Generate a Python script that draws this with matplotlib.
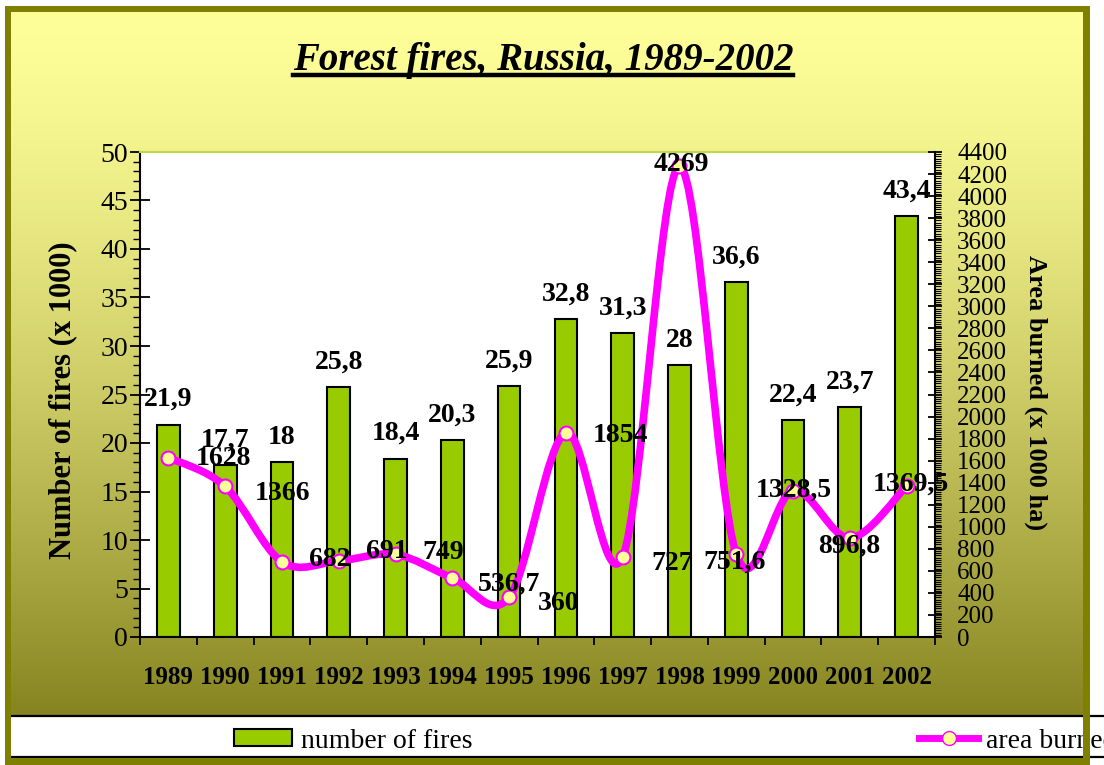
import numpy as np
import matplotlib
matplotlib.use("Agg")
import matplotlib.pyplot as plt
from matplotlib.path import Path
from matplotlib.patches import PathPatch, Patch, Rectangle
from matplotlib.lines import Line2D

plt.rcParams['font.family'] = ['Liberation Serif', 'DejaVu Serif']

years = ["1989", "1990", "1991", "1992", "1993", "1994", "1995",
         "1996", "1997", "1998", "1999", "2000", "2001", "2002"]
fires = [21.9, 17.7, 18, 25.8, 18.4, 20.3, 25.9, 32.8, 31.3, 28, 36.6, 22.4, 23.7, 43.4]
area = [1628, 1366, 682, 691, 749, 536.7, 360, 1854, 727, 4269, 751.6, 1328.5, 896.8, 1369.5]

# where excel put the area labels (pixel offsets from the point)
area_label_offsets = [(55, -1), (57, -7), (48, 2), (48, 9), (48, 2), (57, -6), (50, -6),
                      (55, -3), (50, -7), (2, 2), (-2, -8), (1, 0), (-1, -8), (4, 2)]

W, H = 1104, 765
GREEN = '#99CC00'
MAGENTA = '#FF00FF'
CREAM = '#FFFF99'
OLIVE = '#808000'


def fmt(v):
    return f"{v:g}".replace('.', ',')


def smooth_path(xs, ys):
    # catmull-rom style bezier, like excel's "smoothed line"
    pts = list(zip(xs, ys))
    n = len(pts)
    verts = [pts[0]]
    codes = [Path.MOVETO]
    for i in range(n - 1):
        p0 = pts[i - 1] if i > 0 else pts[i]
        p1 = pts[i]
        p2 = pts[i + 1]
        p3 = pts[i + 2] if i + 2 < n else pts[i + 1]
        c1 = (p1[0] + (p2[0] - p0[0]) / 6, p1[1] + (p2[1] - p0[1]) / 6)
        c2 = (p2[0] - (p3[0] - p1[0]) / 6, p2[1] - (p3[1] - p1[1]) / 6)
        verts += [c1, c2, p2]
        codes += [Path.CURVE4] * 3
    return Path(verts, codes)


fig = plt.figure(figsize=(W / 100, H / 100), dpi=100)
fig.patch.set_facecolor('white')

# background: yellow -> olive gradient, white legend band
bg = fig.add_axes([0, 0, 1, 1], zorder=-1)
bg.set_xlim(0, W)
bg.set_ylim(H, 0)
bg.axis('off')
t = np.linspace(0, 1, 400) ** 1.4
top = np.array([255, 255, 153]) / 255
bot = np.array([124, 122, 22]) / 255
grad = top[None, :] * (1 - t[:, None]) + bot[None, :] * t[:, None]
bg.imshow(grad[:, None, :], extent=[11, 1083, 757, 12], aspect='auto', zorder=0)
bg.add_patch(Rectangle((11, 716), W - 11, 41, facecolor='white', edgecolor='none', zorder=1))
bg.plot([11, W], [716, 716], color='black', lw=1.6, zorder=2)
bg.plot([11, W], [757, 757], color='black', lw=1.6, zorder=2)
bg.set_xlim(0, W)
bg.set_ylim(H, 0)

# plot area
x0, x1, y0, y1 = 140, 935, 152, 637
ax = fig.add_axes([x0 / W, 1 - y1 / H, (x1 - x0) / W, (y1 - y0) / H], zorder=1)
ax.set_facecolor('white')
x = np.arange(len(years))
ax.bar(x, fires, width=0.4, color=GREEN, edgecolor='black', linewidth=1.5, zorder=2)
ax.set_xlim(-0.5, len(years) - 0.5)
ax.set_ylim(0, 50)

for xi, v in zip(x, fires):
    ax.annotate(fmt(v), (xi, v), xytext=(0, 25), textcoords='offset pixels',
                ha='center', va='center', fontsize=20, fontweight='bold', zorder=5)

ax.set_xticks(x, labels=years)
ax.set_xticks(np.arange(-0.5, len(years)), minor=True)
ax.tick_params(axis='x', which='major', length=0, pad=21, labelsize=18)
ax.tick_params(axis='x', which='minor', length=6, width=1.3, direction='out')
for lab in ax.get_xticklabels():
    lab.set_fontweight('bold')

ax.set_yticks(np.arange(0, 51, 5))
ax.set_yticks(np.arange(0, 51, 1), minor=True)
ax.tick_params(axis='y', which='major', direction='inout', length=14, width=1.3,
               labelsize=20, pad=1.5)
ax.tick_params(axis='y', which='minor', direction='out', length=5, width=1.0)

ax.spines['right'].set_visible(False)
ax.spines['top'].set_color('#bcd94a')
ax.spines['top'].set_linewidth(1.5)
ax.spines['left'].set_linewidth(1.5)
ax.spines['bottom'].set_linewidth(1.5)

ax.set_ylabel('Number of fires (x 1000)', fontsize=22, fontweight='bold', va='center')
ax.yaxis.set_label_coords((63 - x0) / (x1 - x0), (y1 - 400) / (y1 - y0))

# area burned on the right axis
ax2 = ax.twinx()
ax2.set_zorder(2)
ax2.patch.set_visible(False)
ax2.set_ylim(0, 4400)
ax2.add_patch(PathPatch(smooth_path(x, area), facecolor='none', edgecolor=MAGENTA,
                        lw=5.5, capstyle='round', joinstyle='round', zorder=3))
ax2.plot(x, area, linestyle='none', marker='o', markersize=10, markerfacecolor=CREAM,
         markeredgecolor=MAGENTA, markeredgewidth=1.5, zorder=4)
for xi, v, off in zip(x, area, area_label_offsets):
    ax2.annotate(fmt(v), (xi, v), xytext=off, textcoords='offset pixels',
                 ha='center', va='center', fontsize=20, fontweight='bold', zorder=6)

ax2.set_yticks(np.arange(0, 4401, 200))
ax2.set_yticks(np.arange(0, 4401, 20), minor=True)
ax2.tick_params(axis='y', which='major', direction='inout', length=10, width=1.3,
                labelsize=18, pad=11)
ax2.tick_params(axis='y', which='minor', direction='out', length=4, width=0.8)
for s in ['left', 'top', 'bottom']:
    ax2.spines[s].set_visible(False)
ax2.spines['right'].set_linewidth(1.5)
ax2.set_ylabel('Area burned (x 1000 ha)', fontsize=19, fontweight='bold',
               rotation=-90, va='center')
ax2.yaxis.set_label_coords((1036 - x0) / (x1 - x0), (y1 - 393) / (y1 - y0))

# legend across the bottom band
handles = [Patch(facecolor=GREEN, edgecolor='black', linewidth=1.5),
           Line2D([], [], color=MAGENTA, lw=5, marker='o', markersize=10,
                  markerfacecolor=CREAM, markeredgecolor=MAGENTA)]
fig.legend(handles, ['number of fires', 'area burned'], ncol=2, frameon=False,
           loc='center left', bbox_to_anchor=(234 / W, 1 - 741 / H),
           borderpad=0, borderaxespad=0, fontsize=20, handlelength=2.1,
           handleheight=0.55, handletextpad=0.3, columnspacing=16.1)

# title with underline
title = fig.text(543 / W, 1 - 70 / H, 'Forest fires, Russia, 1989-2002', ha='center',
                 va='baseline', fontsize=28, fontweight='bold', fontstyle='italic')
fig.canvas.draw()
tb = title.get_window_extent()
fig.add_artist(Line2D([tb.x0 / W, tb.x1 / W], [1 - 75 / H, 1 - 75 / H],
                      color='black', lw=3.2, transform=fig.transFigure))

# olive frame on top of everything
fr = fig.add_axes([0, 0, 1, 1], zorder=10)
fr.set_xlim(0, W)
fr.set_ylim(H, 0)
fr.axis('off')
fr.patch.set_visible(False)
for rx, ry, rw, rh in [(5, 6, 1085, 6), (5, 6, 6, 759), (1083, 6, 7, 759), (5, 758, 1085, 7)]:
    fr.add_patch(Rectangle((rx, ry), rw, rh, facecolor=OLIVE, edgecolor='none'))

fig.savefig('out.png', dpi=100)
